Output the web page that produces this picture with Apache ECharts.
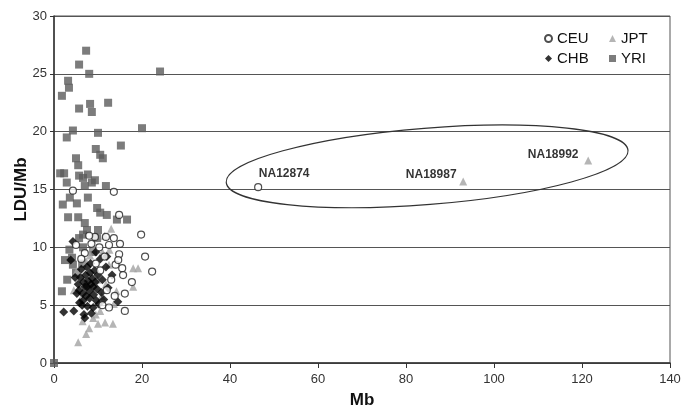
<!DOCTYPE html>
<html>
<head>
<meta charset="utf-8">
<script src="https://cdn.jsdelivr.net/npm/echarts@6/dist/echarts.min.js"></script>
<style>html,body{margin:0;padding:0;background:#fff}#c{width:692px;height:412px}</style>
</head>
<body>
<div id="c"></div>
<script>
const xTicks = [0, 20, 40, 60, 80, 100, 120, 140];
const yTicks = [0, 5, 10, 15, 20, 25, 30];

const yriPoints = [
  [0,0],[7.3,27.0],[5.7,25.8],[8.0,25.0],[24.1,25.2],[3.2,24.4],[3.4,23.8],[1.8,23.1],[5.7,22.0],[8.2,22.4],[8.6,21.7],[12.3,22.5],[4.3,20.1],[20.0,20.3],
  [2.9,19.5],[10.0,19.9],[15.2,18.8],[9.5,18.5],[10.5,18.0],[11.1,17.7],[5.0,17.7],[5.5,17.1],[2.3,16.4],[5.7,16.2],[7.7,16.3],[6.6,16.0],[9.3,15.8],[8.6,15.6],[2.9,15.6],[7.0,15.3],[11.8,15.3],
  [3.6,14.3],[2.0,13.7],[5.2,13.8],[7.7,14.3],[9.8,13.4],[10.5,13.0],[12.0,12.8],[3.2,12.6],[5.5,12.6],[14.3,12.4],[16.6,12.4],[7.0,12.1],[7.5,11.5],[10.0,11.5],[5.7,10.8],[6.6,11.1],[6.6,10.0],
  [4.1,9.1],[4.3,8.5],[8.9,9.6],[5.0,7.8],[3.0,7.2],[1.8,6.2],[6.4,8.6],[9.8,10.8],[1.4,16.4],[3.5,9.8],[2.5,8.9]
];
const jptPoints = [
  [5.5,1.8],[7.3,2.5],[8.0,3.0],[11.6,3.5],[13.4,3.4],[10.5,4.5],[8.9,3.9],[13.6,5.1],[4.5,6.3],[13.0,11.6],[8.9,10.0],[18.0,8.2],[19.1,8.2],[18.0,6.6],
  [6.5,3.6],[9.5,4.2],[10.8,5.8],[11.8,6.8],[12.5,8.5],[7.3,8.8],[8.2,9.3],[11.0,9.6],[12.6,9.8],[9.8,7.2],[6.0,5.5],[10.0,3.4],[14.2,6.2],[5.2,8.0],[11.5,11.0]
];
const chbPoints = [
  [2.2,4.4],[4.5,4.5],[4.3,10.5],[5.2,6.0],[5.5,6.8],[5.7,6.3],[5.8,5.2],[6.0,7.4],[6.2,8.1],[6.4,5.0],[6.5,6.0],[6.6,5.4],[6.7,7.0],[6.8,4.2],[7.0,3.9],[7.0,6.6],[7.2,7.6],[7.3,5.8],[7.5,8.3],[7.5,6.6],[7.6,4.9],[7.8,7.1],[8.0,6.2],[8.1,5.6],[8.2,7.8],
  [8.3,8.6],[8.4,6.8],[8.5,4.3],[8.7,7.3],[8.9,4.8],[8.9,6.6],[9.0,5.9],[9.2,8.0],[9.4,7.0],[9.6,5.4],[9.8,6.4],[10.0,7.6],[10.2,5.1],[10.5,9.0],[10.8,6.1],[11.0,7.2],[11.3,5.5],[12.0,9.2],[12.3,6.5],[13.2,7.6],[14.5,5.3],[3.8,8.9],[4.8,7.4],[9.5,9.6],[11.8,8.3]
];
const ceuPoints = [
  [4.3,14.9],[13.6,14.8],[14.8,12.8],[19.8,11.1],[9.3,10.9],[11.8,10.9],[13.6,10.8],[20.7,9.2],[22.3,7.9],[15.5,8.2],[15.7,7.6],[16.1,6.0],[17.7,7.0],[16.1,4.5],
  [12.5,10.2],[10.3,10.0],[14.8,9.4],[14.0,8.5],[11.5,9.2],[13.0,7.2],[12.0,6.3],[10.5,8.0],[8.5,10.3],[7.0,9.5],[9.5,8.6],[13.8,5.8],[11.0,5.0],[12.5,4.8],[6.2,9.0],[5.0,10.2],[14.6,8.9],[8.0,11.0],[15.0,10.3]
];
// labelled outliers: [series, name, x, y]
const outliers = [
  ['CEU', 'NA12874', 46.4, 15.2],
  ['JPT', 'NA18987', 93.0, 15.7],
  ['JPT', 'NA18992', 121.4, 17.5]
];
// annotation ellipse: centre (x, y), half-axes in data units, tilt in degrees
const ellipseData = [[84.8, 17.0, 45.8, 3.3, 4.55]];

const labelOffsets = { NA12874: [26, -13], NA18987: [-32, -7], NA18992: [-35, -6] };

function withOutliers(name, pts) {
  const d = pts.map(p => p.slice());
  outliers.filter(o => o[0] === name).forEach(o => {
    d.push({
      value: [o[2], o[3]],
      label: {
        show: true, formatter: o[1], position: 'inside', offset: labelOffsets[o[1]],
        fontFamily: 'Liberation Sans, Arial', fontWeight: 'bold', fontSize: 12, color: '#000',
        textBorderWidth: 0
      }
    });
  });
  return d;
}

const chart = echarts.init(document.getElementById('c'), null, { renderer: 'canvas' });
const font = 'Liberation Sans, Arial, sans-serif';
chart.setOption({
  animation: false,
  backgroundColor: '#fff',
  grid: { left: 54, right: 22, top: 16, bottom: 49, show: true, borderColor: '#555', borderWidth: 1,
    backgroundColor: 'transparent', containLabel: false, outerBoundsMode: 'none' },
  legend: [
    { data: ['CEU', 'CHB'], orient: 'vertical', left: 539, top: 26, itemWidth: 7, itemHeight: 7, itemGap: 5,
      textStyle: { fontFamily: font, fontSize: 15, color: '#111' } },
    { data: ['JPT', 'YRI'], orient: 'vertical', left: 604, top: 26, itemWidth: 7, itemHeight: 7, itemGap: 5,
      textStyle: { fontFamily: font, fontSize: 15, color: '#111' } }
  ],
  xAxis: {
    type: 'value', min: xTicks[0], max: xTicks[xTicks.length - 1], interval: xTicks[1] - xTicks[0],
    name: 'Mb', nameLocation: 'middle', nameGap: 29, nameMoveOverlap: false,
    nameTextStyle: { fontFamily: font, fontWeight: 'bold', fontSize: 17, color: '#111' },
    axisLine: { lineStyle: { color: '#333', width: 1.5 } },
    axisTick: { show: true, inside: false, length: 5, lineStyle: { color: '#333' } },
    axisLabel: { fontFamily: font, fontSize: 13, color: '#333', margin: 10 },
    splitLine: { show: false }
  },
  yAxis: {
    type: 'value', min: yTicks[0], max: yTicks[yTicks.length - 1], interval: yTicks[1] - yTicks[0],
    name: 'LDU/Mb', nameLocation: 'middle', nameGap: 24, nameMoveOverlap: false,
    nameTextStyle: { fontFamily: font, fontWeight: 'bold', fontSize: 17, color: '#111' },
    axisLine: { show: true, lineStyle: { color: '#333', width: 1.5 } },
    axisTick: { show: true, inside: false, length: 4, lineStyle: { color: '#333' } },
    axisLabel: { fontFamily: font, fontSize: 13, color: '#333', margin: 7 },
    splitLine: { show: true, lineStyle: { color: '#555', width: 1 } }
  },
  series: [
    { name: 'YRI', type: 'scatter', symbol: 'rect', symbolSize: 8, data: withOutliers('YRI', yriPoints),
      itemStyle: { color: '#5b5b5b' } },
    { name: 'JPT', type: 'scatter', symbol: 'triangle', symbolSize: 8, data: withOutliers('JPT', jptPoints),
      itemStyle: { color: '#a3a3a3' } },
    { name: 'CHB', type: 'scatter', symbol: 'diamond', symbolSize: 9, data: withOutliers('CHB', chbPoints),
      itemStyle: { color: '#000' } },
    { name: 'CEU', type: 'scatter', symbol: 'circle', symbolSize: 7, data: withOutliers('CEU', ceuPoints),
      itemStyle: { color: '#fff', borderColor: '#222', borderWidth: 1.2 } },
    { name: 'ellipse', type: 'custom', coordinateSystem: 'cartesian2d', silent: true, clip: false,
      data: ellipseData, encode: { x: 0, y: 1 },
      renderItem: function (params, api) {
        const c = api.coord([api.value(0), api.value(1)]);
        const s = api.size([api.value(2), api.value(3)]);
        return {
          type: 'ellipse', x: c[0], y: c[1], rotation: api.value(4) * Math.PI / 180,
          shape: { cx: 0, cy: 0, rx: s[0], ry: s[1] },
          style: { fill: null, stroke: '#333', lineWidth: 1.2 }
        };
      }
    }
  ]
});
</script>
</body>
</html>
